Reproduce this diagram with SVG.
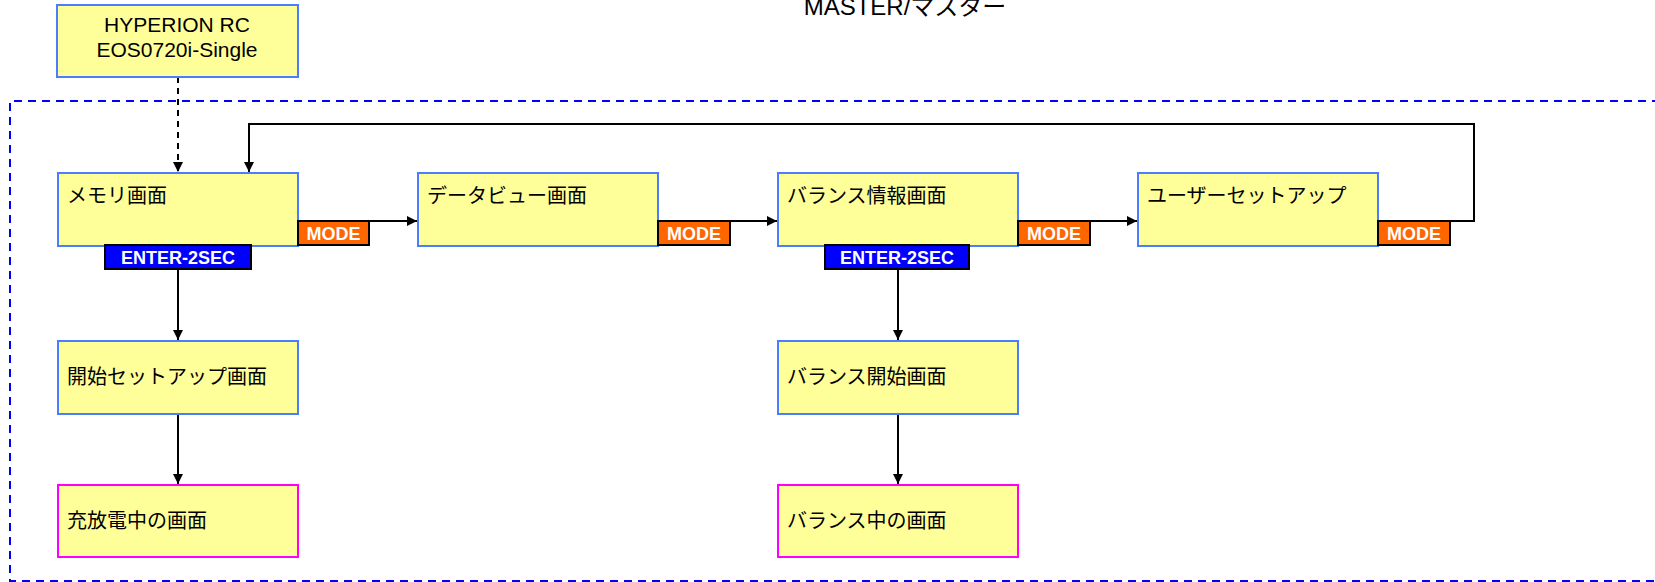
<svg xmlns="http://www.w3.org/2000/svg" width="1655" height="582" viewBox="0 0 1655 582">
<defs>
<marker id="arr" viewBox="0 0 10 10" refX="10" refY="5" markerWidth="10" markerHeight="10" markerUnits="userSpaceOnUse" orient="auto">
<path d="M0,0 L10,5 L0,10 z" fill="#000"/>
</marker>
<style>
.box{fill:#FFFF99;stroke:#4a7dff;stroke-width:2}
.end{fill:#FFFF99;stroke:#FF00FF;stroke-width:2}
.t{font-family:"Liberation Sans","Noto Sans CJK JP",sans-serif;font-size:20px;fill:#000}
.h{font-family:"Liberation Sans","Noto Sans CJK JP",sans-serif;font-size:21px;fill:#000;text-anchor:middle}
.mode{fill:#FF6600;stroke:#000;stroke-width:2}
.ent{fill:#0000FF;stroke:#000;stroke-width:2}
.lt{font-family:"Liberation Sans",Arial,sans-serif;font-size:18px;font-weight:bold;fill:#fff;text-anchor:middle}
.c{fill:none;stroke:#000;stroke-width:2}
</style>
</defs>
<rect x="0" y="0" width="1655" height="582" fill="#fff"/>
<text x="905" y="15" class="h" style="font-size:24px">MASTER/マスター</text>
<path d="M1660,101 H10 V581 H1660" fill="none" stroke="#0000FF" stroke-width="2" stroke-dasharray="8,6"/>
<g id="connectors">
<path class="c" d="M178,77 V172" stroke-dasharray="6,5" marker-end="url(#arr)"/>
<path class="c" d="M369,221 H417" marker-end="url(#arr)"/>
<path class="c" d="M730,221 H777" marker-end="url(#arr)"/>
<path class="c" d="M1090,221 H1137" marker-end="url(#arr)"/>
<path class="c" d="M1450,221 H1474 V124 H249 V172" marker-end="url(#arr)"/>
<path class="c" d="M178,269 V340" marker-end="url(#arr)"/>
<path class="c" d="M178,414 V484" marker-end="url(#arr)"/>
<path class="c" d="M898,269 V340" marker-end="url(#arr)"/>
<path class="c" d="M898,414 V484" marker-end="url(#arr)"/>
</g>
<g id="hyperion">
<rect class="box" x="57" y="5" width="241" height="72"/>
<text class="h" x="177" y="32">HYPERION RC</text>
<text class="h" x="177" y="57">EOS0720i-Single</text>
</g>
<g id="memory">
<rect class="box" x="58" y="173" width="240" height="73"/>
<text class="t" x="67" y="203">メモリ画面</text>
<rect class="mode" x="298" y="221" width="71" height="24"/>
<text class="lt" x="333.5" y="240">MODE</text>
<rect class="ent" x="105" y="245" width="146" height="24"/>
<text class="lt" x="178" y="264">ENTER-2SEC</text>
</g>
<g id="dataview">
<rect class="box" x="418" y="173" width="240" height="73"/>
<text class="t" x="427" y="203">データビュー画面</text>
<rect class="mode" x="658" y="221" width="72" height="24"/>
<text class="lt" x="694" y="240">MODE</text>
</g>
<g id="balanceinfo">
<rect class="box" x="778" y="173" width="240" height="73"/>
<text class="t" x="787" y="203">バランス情報画面</text>
<rect class="mode" x="1018" y="221" width="72" height="24"/>
<text class="lt" x="1054" y="240">MODE</text>
<rect class="ent" x="825" y="245" width="144" height="24"/>
<text class="lt" x="897" y="264">ENTER-2SEC</text>
</g>
<g id="usersetup">
<rect class="box" x="1138" y="173" width="240" height="73"/>
<text class="t" x="1147" y="203">ユーザーセットアップ</text>
<rect class="mode" x="1378" y="221" width="72" height="24"/>
<text class="lt" x="1414" y="240">MODE</text>
</g>
<g id="startsetup">
<rect class="box" x="58" y="341" width="240" height="73"/>
<text class="t" x="67" y="384">開始セットアップ画面</text>
</g>
<g id="charging">
<rect class="end" x="58" y="485" width="240" height="72"/>
<text class="t" x="67" y="528">充放電中の画面</text>
</g>
<g id="balancestart">
<rect class="box" x="778" y="341" width="240" height="73"/>
<text class="t" x="787" y="384">バランス開始画面</text>
</g>
<g id="balancing">
<rect class="end" x="778" y="485" width="240" height="72"/>
<text class="t" x="787" y="528">バランス中の画面</text>
</g>
</svg>
